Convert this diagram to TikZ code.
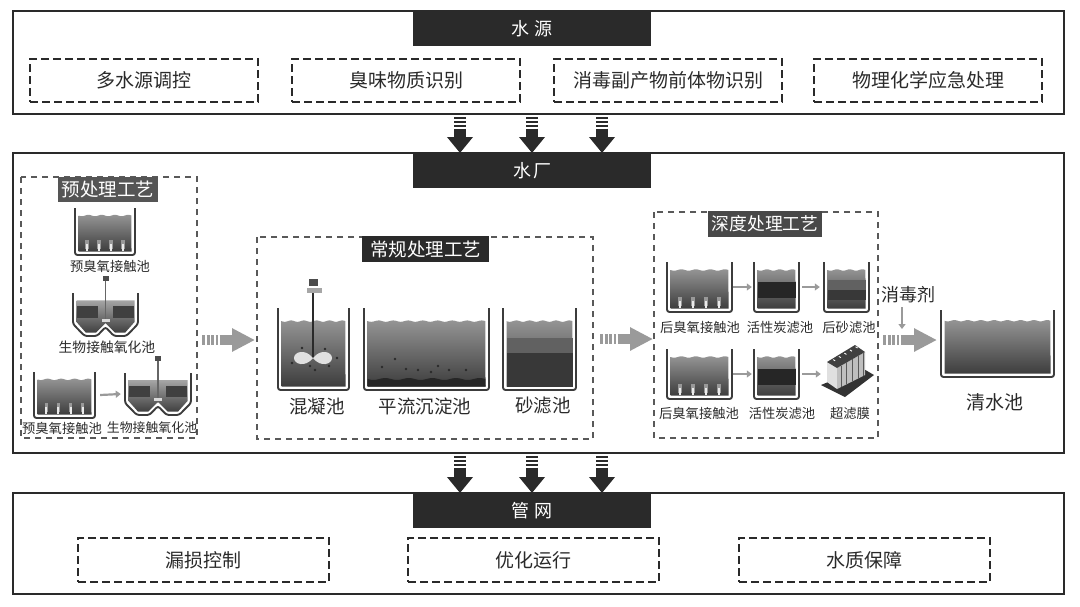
\documentclass[tikz,border=0pt]{standalone}
\usepackage{fontspec}
\setmainfont{Noto Sans CJK SC}
\usetikzlibrary{arrows.meta,calc}

\definecolor{ink}{HTML}{2A2A2A}
\definecolor{greybar}{HTML}{555555}
\definecolor{flowgrey}{HTML}{9A9A9A}
\definecolor{wallgrey}{HTML}{3C3C3C}

\tikzset{
outerbox/.style={draw=ink, line width=2.2pt},
titlebar/.style={fill=ink, text=white, inner sep=0pt, minimum width=238pt, minimum height=34pt, font=\fontsize{18}{20}\selectfont},
groupbar/.style={fill=#1, text=white, inner sep=0pt, minimum height=25pt, font=\fontsize{18.5}{20}\selectfont},
taskbox/.style={draw=ink, line width=2pt, dash pattern=on 8pt off 4pt, inner sep=0pt, text=ink, minimum height=43pt, font=\fontsize{19}{21}\selectfont},
groupbox/.style={draw=wallgrey!85, line width=1.4pt, dash pattern=on 6pt off 5pt},
biglab/.style={inner sep=0pt, text=ink, font=\fontsize{18.5}{20}\selectfont},
smalllab/.style={inner sep=0pt, text=ink, font=\fontsize{13.3}{15}\selectfont},
wall/.style={draw=wallgrey, line width=1.9pt, rounded corners=2.5pt},
smallarrow/.style={draw=flowgrey, line width=2.2pt, -{Triangle[length=5pt,width=7pt]}},
blackshaft/.style={draw=ink, line width=12pt, -{Triangle[length=16pt,width=25pt]}},
blackbars/.style={draw=ink, line width=12pt, dash pattern=on 2.4pt off 1.4pt},
greyshaft/.style={draw=flowgrey, line width=10pt, -{Triangle[length=23pt,width=22pt]}},
greybars/.style={draw=flowgrey, line width=10pt, dash pattern=on 3pt off 1.5pt},
}

\newcommand{\water}[4]{
\pgfmathsetmacro\wxa{#1}
\pgfmathsetmacro\wxb{#2}
\pgfmathsetmacro\wavenum{round((\wxb-\wxa)/14)}
\shade[top color=black!42, bottom color=black!76] plot[domain=0:1, samples=61] ({\wxa+(\wxb-\wxa)*\x},{#3+.7*sin(\x*360*\wavenum)}) -- (\wxb,#4) -- (\wxa,#4) -- cycle;
}

\newcommand{\tank}[5]{
\node(#1)[inner sep=0pt, minimum width=#3pt-#2pt, minimum height=#5pt-#4pt] at({(#2+#3)/2},{(#4+#5)/2}) {};
\water{#2+3.5}{#3-3.5}{#4+.16*(#5-#4)}{#5-3.5}
\draw[wall] (#2,#4) -- (#2,#5) -- (#3,#5) -- (#3,#4);
}

\newcommand{\biotank}[5]{
\node(#1)[inner sep=0pt, minimum width=#3pt-#2pt, minimum height=#5pt-#4pt] at({(#2+#3)/2},{(#4+#5)/2}) {};
\pgfmathsetmacro\bw{#3-#2}
\pgfmathsetmacro\bh{#5-#4}
\pgfmathsetmacro\bxa{#2+.18*\bw}
\pgfmathsetmacro\bxb{#2+.37*\bw}
\pgfmathsetmacro\bxc{#2+.5*\bw}
\pgfmathsetmacro\bxd{#2+.63*\bw}
\pgfmathsetmacro\bxe{#2+.82*\bw}
\pgfmathsetmacro\byw{#4+.17*\bh}
\shade[top color=black!35, bottom color=black!75] (#2+3.5,\byw) -- (#3-3.5,\byw) -- (#3-3.5,#5-14) -- (\bxe-1,#5-3.5) -- (\bxd+1,#5-3.5) -- (\bxc,#5-13) -- (\bxb-1,#5-3.5) -- (\bxa+1,#5-3.5) -- (#2+3.5,#5-14) -- cycle;
\fill[black!75] (#2+4,#4+.3*\bh) rectangle (\bxb+1,#4+.58*\bh);
\fill[black!75] (\bxd-1,#4+.3*\bh) rectangle (#3-4,#4+.58*\bh);
\draw[wall] (#2,#4) -- (#2,#5-12) -- (\bxa,#5) -- (\bxb,#5) -- (\bxc,#5-9) -- (\bxd,#5) -- (\bxe,#5) -- (#3,#5-12) -- (#3,#4);
\draw[black!60, line width=1.2pt] (\bxc,#4-14) -- (\bxc,#4+.63*\bh);
\fill[black!70] (\bxc-3,#4-17) rectangle (\bxc+3,#4-12);
\fill[black!15] (\bxc-4,#4+.6*\bh) rectangle (\bxc+4,#4+.67*\bh);
}

\newcommand{\aerators}[3]{
\foreach \f in {.2,.4,.6,.8} {
\draw[black!40, line width=3.2pt] ({#1+(#2-#1)*\f},#3-4) -- ({#1+(#2-#1)*\f},#3-13);
\draw[black!8, line width=2pt] ({#1+(#2-#1)*\f},#3-2) -- ({#1+(#2-#1)*\f},#3-9);
}
}

\newcommand{\band}[5]{\fill[#5] (#1+3.5,#3) rectangle (#2-3.5,#4);}

\newcommand{\flowarrow}[4]{
\draw[#4bars] (#1) -- ($(#1)!#3pt!(#2)$);
\draw[#4shaft] ($(#1)!#3pt+1.5pt!(#2)$) -- (#2);
}

\begin{document}
\begin{tikzpicture}[x=1pt, y=-1pt]

\useasboundingbox (0,0) rectangle (1080,606);

\draw[outerbox] (13,11) rectangle (1064,114);
\draw[outerbox] (13,153) rectangle (1064,453);
\draw[outerbox] (13,493) rectangle (1064,594);

\node(src) [titlebar] at(532,29) {水\hspace{5pt}源};
\node(plant) [titlebar] at(532,170.5) {水\hspace{2pt}厂};
\node(net) [titlebar] at(532,510.5) {管\hspace{5pt}网};

\node(srca) [taskbox, minimum width=228pt] at(144,80.5) {多水源调控};
\node(srcb) [taskbox, minimum width=228pt] at(406,80.5) {臭味物质识别};
\node(srcc) [taskbox, minimum width=228pt] at(668,80.5) {消毒副产物前体物识别};
\node(srcd) [taskbox, minimum width=228pt] at(928,80.5) {物理化学应急处理};

\node(neta) [taskbox, minimum width=251pt, minimum height=44pt] at(203.5,560) {漏损控制};
\node(netb) [taskbox, minimum width=251pt, minimum height=44pt] at(533.5,560) {优化运行};
\node(netc) [taskbox, minimum width=251pt, minimum height=44pt] at(864.5,560) {水质保障};

\foreach \i/\xpos in {1/460, 2/532, 3/602} {
\coordinate(up\i) at(\xpos,117);
\coordinate(um\i) at(\xpos,153);
\coordinate(lo\i) at(\xpos,456);
\coordinate(lm\i) at(\xpos,493);
\flowarrow{up\i}{um\i}{10}{black}
\flowarrow{lo\i}{lm\i}{10}{black}
}

\draw[groupbox] (21,177) rectangle (197,438);
\node(pre) [groupbar=greybar, minimum width=100pt] at(108,189.5) {预处理工艺};

\tank{oza}{75}{135}{208}{255}
\aerators{75}{135}{253}
\node(ozalab) [smalllab] at(110,266) {预臭氧接触池};

\biotank{bioa}{73}{138}{293}{336}
\node(bioalab) [smalllab, font=\fontsize{13.8}{15}\selectfont] at(107,347) {生物接触氧化池};

\tank{ozb}{34}{95}{372}{418}
\aerators{34}{95}{416}
\node(ozblab) [smalllab] at(62,428) {预臭氧接触池};

\biotank{biob}{125}{191}{373}{415}
\node(bioblab) [smalllab, font=\fontsize{12.9}{15}\selectfont] at(152,428) {生物接触氧化池};

\draw[smallarrow] (ozb.east)++(5,0) -- ($(biob.west)+(-4,0)$);

\draw[groupbox] (257,237) rectangle (593,439);
\node(conv) [groupbar=ink, minimum width=127pt, minimum height=26pt] at(425.5,249) {常规处理工艺};

\tank{mix}{278}{349}{308}{390}
\draw[ink, line width=1.5pt] (313,293) -- (313,358);
\fill[black!35] (307,288) rectangle (322,293);
\fill[black!70] (309,279) rectangle (318,286);
\fill[black!12] (313,358) .. controls (305,348) and (294,352) .. (294,358) .. controls (294,364) and (305,368) .. (313,358);
\fill[black!12] (313,358) .. controls (321,348) and (332,352) .. (332,358) .. controls (332,364) and (321,368) .. (313,358);
\foreach \px/\py in {302/348, 325/349, 337/358, 292/363, 310/366, 315/370, 329/366} {
\fill[ink] (\px,\py) circle (1.4);
}
\node(mixlab) [biglab] at(317,406) {混凝池};

\tank{sed}{364}{489}{308}{390}
\fill[black!85] plot[domain=0:1, samples=41] ({367.5+118*\x},{379+1*sin(\x*360*5)}) -- (485.5,386.5) -- (367.5,386.5) -- cycle;
\foreach \px/\py in {382/367, 395/359, 406/369, 418/370, 431/372, 438/366, 449/370, 466/370} {
\fill[ink] (\px,\py) circle (1.4);
}
\node(sedlab) [biglab] at(425,406) {平流沉淀池};

\tank{sand}{503}{576}{308}{390}
\band{503}{576}{338}{353}{black!62}
\band{503}{576}{353}{386.5}{black!78}
\node(sandlab) [biglab] at(543,406) {砂滤池};

\draw[groupbox] (654,212) rectangle (878,438);
\node(deep) [groupbar=greybar!85!black, minimum width=114pt, minimum height=26pt, font=\fontsize{17.8}{20}\selectfont] at(765,224) {深度处理工艺};

\tank{ozc}{667}{732}{262}{312}
\aerators{667}{732}{310}
\node(ozclab) [smalllab] at(700,327) {后臭氧接触池};

\tank{gaca}{754}{799}{262}{312}
\band{754}{799}{282}{298}{ink!90!black}
\node(gacalab) [smalllab] at(780,327) {活性炭滤池};

\tank{sanb}{824}{869}{262}{312}
\band{824}{869}{280}{290}{black!62}
\band{824}{869}{290}{300}{black!78}
\node(sanblab) [smalllab] at(849,327) {后砂滤池};

\tank{ozd}{667}{732}{349}{399}
\aerators{667}{732}{397}
\node(ozdlab) [smalllab] at(699,413) {后臭氧接触池};

\tank{gacb}{754}{799}{349}{399}
\band{754}{799}{369}{385}{ink!90!black}
\node(gacblab) [smalllab] at(782,413) {活性炭滤池};

\node(uf) [inner sep=0pt, minimum width=52pt, minimum height=55pt] at(847,370) {};
\fill[black!80] (821,385) -- (845,397) -- (874,375) -- (862,368) -- cycle;
\fill[black!12] (827,362) -- (837,368) -- (837,389) -- (827,382) -- cycle;
\fill[black!25] (837,368) -- (865,352) -- (865,375) -- (837,389) -- cycle;
\fill[black!75] (827,362) -- (837,368) -- (865,352) -- (855,345) -- cycle;
\foreach \f in {.15,.35,.55,.75,.95} {
\draw[black!65, line width=.9pt] ($(837,368)!\f!(865,352)$) -- ($(837,389)!\f!(865,375)$);
\draw[white, line width=.9pt] ($(829,362)!\f!(857,346)$) -- ++(2,1.2);
}
\node(uflab) [smalllab] at(850,413) {超滤膜};

\draw[smallarrow] ($(ozc.east)+(1,0)$) -- ($(gaca.west)+(-2,0)$);
\draw[smallarrow] ($(gaca.east)+(3,0)$) -- ($(sanb.west)+(-4,0)$);
\draw[smallarrow] ($(ozd.east)+(1,0)$) -- ($(gacb.west)+(-2,0)$);
\draw[smallarrow] ($(gacb.east)+(3,0)$) -- ($(uf.west)+(0,4)$);

\tank{clear}{941}{1054}{310}{377}
\node(clearlab) [biglab, font=\fontsize{19}{21}\selectfont] at(995,402) {清水池};

\node(dis) [biglab, font=\fontsize{18}{20}\selectfont] at(908,295) {消毒剂};
\coordinate(disa) at(902,307);
\coordinate(disb) at(902,329);
\draw[smallarrow] (disa) -- (disb);

\coordinate(fa) at(202,340);
\coordinate(fb) at(255,340);
\coordinate(fc) at(600,339);
\coordinate(fd) at(653,339);
\coordinate(fe) at(883,340);
\coordinate(ff) at(937,340);
\flowarrow{fa}{fb}{16}{grey}
\flowarrow{fc}{fd}{16}{grey}
\flowarrow{fe}{ff}{16}{grey}

\end{tikzpicture}
\end{document}
